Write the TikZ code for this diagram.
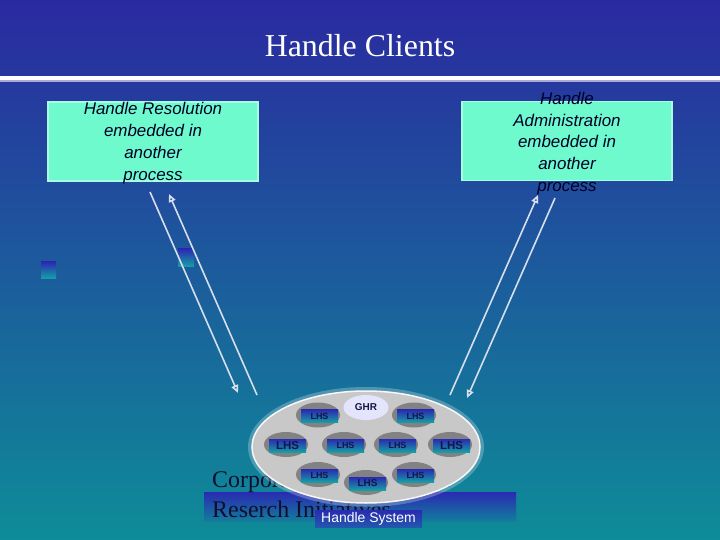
\documentclass[tikz,border=0pt]{standalone}
\usepackage{fontspec}
\setmainfont{Liberation Serif}
\setsansfont{Liberation Sans}
\usetikzlibrary{arrows.meta,shapes.geometric}
\definecolor{bgtop}{RGB}{42,42,160}
\definecolor{bgmid}{RGB}{28,92,166}
\definecolor{bgbot}{RGB}{14,140,152}
\definecolor{aqua}{RGB}{110,250,205}
\definecolor{gradtop}{RGB}{42,42,178}
\definecolor{gradbot}{RGB}{22,158,165}
\definecolor{arrowc}{RGB}{215,222,236}
\definecolor{ovalgray}{RGB}{200,200,200}
\definecolor{unitgray}{RGB}{130,130,130}
\definecolor{ghrc}{RGB}{228,228,252}
\definecolor{navy}{RGB}{20,20,70}
\definecolor{darktext}{RGB}{15,15,45}
\tikzset{
  clientbox/.style={draw=aqua!60!white, line width=1.2bp, fill=aqua, minimum width=210bp, minimum height=79bp, inner sep=0pt},
  clienttext/.style={align=center, inner sep=0pt, text=black!85!blue, font=\sffamily\itshape\fontsize{17}{22}\selectfont},
  flow/.style={draw=arrowc, line width=1.6bp, -{Triangle[open, length=8bp, width=7bp]}},
  gradsq/.style={top color=gradtop, bottom color=gradbot, draw=none},
  unit/.style={ellipse, fill=unitgray, minimum width=44bp, minimum height=25bp, inner sep=0pt},
  unitrect/.style={top color=gradtop, bottom color=gradbot, draw=none, inner sep=0pt, text=navy},
}
\newcommand\lhsunit[4]{%
  \node[unit] (#1) at (#2,#3) {};
  \node[unitrect, minimum width=37bp, minimum height=13bp, font=\sffamily\bfseries\fontsize{#4}{#4}\selectfont] (#1r) at ([xshift=1.5bp,yshift=-1bp]#1.center) {LHS};
}
\begin{document}
\begin{tikzpicture}[x=1bp, y=-1bp]
\useasboundingbox (0,0) rectangle (720,540);
% background
\shade[top color=bgtop, middle color=bgmid, bottom color=bgbot] (0,0) rectangle (720,540);
% title
\node[text=white, font=\fontsize{32}{32}\selectfont, anchor=base] (title) at (360,57) {Handle Clients};
\draw[white, line width=4bp] (0,78) -- (720,78);
\draw[white!60!bgtop, line width=1.5bp] (0,81) -- (720,81);
% client boxes
\node[clientbox] (res) at (153,141.5) {};
\node[clienttext] (restext) at (153,143) {Handle Resolution\\embedded in\\another\\process};
\node[clientbox] (adm) at (567,141) {};
\node[clienttext] (admtext) at (567,143.6) {Handle\\Administration\\embedded in\\another\\process};
% small gradient squares
\node[gradsq, minimum width=15bp, minimum height=16bp, inner sep=0pt] (sq1) at (48.5,270) {};
\node[gradsq, minimum width=16bp, minimum height=17bp, inner sep=0pt] (sq2) at (186,257.5) {};
% arrow end points
\coordinate (r1s) at (150,192);
\coordinate (r1e) at (238,393);
\coordinate (r2s) at (257,395);
\coordinate (r2e) at (169,194);
\coordinate (a1s) at (450,395);
\coordinate (a1e) at (538,195);
\coordinate (a2s) at (555,198);
\coordinate (a2e) at (467,398);
\draw[flow] (r1s) -- (r1e);
\draw[flow] (r2s) -- (r2e);
\draw[flow] (a1s) -- (a1e);
\draw[flow] (a2s) -- (a2e);
% bottom bar and organisation text
\shade[top color=gradtop, bottom color=bgbot!85!gradtop] (204,492) rectangle (516,521);
\node[anchor=base west, inner sep=0pt, text=darktext, font=\fontsize{24}{24}\selectfont] (org1) at (212,487) {Corporation for National};
\node[anchor=base west, inner sep=0pt, text=darktext, font=\fontsize{24}{24}\selectfont] (org2) at (212,517) {Reserch Initiatives};
% handle system oval
\fill[white, opacity=0.25] (366,447) ellipse [x radius=118, y radius=60];
\node[ellipse, fill=ovalgray, draw=white!85!ovalgray, line width=1.5bp, minimum width=228bp, minimum height=112bp, inner sep=0pt] (hs) at (366,447) {};
\node[ellipse, fill=ghrc, minimum width=45bp, minimum height=25bp, inner sep=0pt, text=navy, font=\sffamily\bfseries\fontsize{10}{10}\selectfont] (ghr) at (366,407.5) {GHR};
\lhsunit{u1}{318}{415}{9}
\lhsunit{u2}{414}{415}{9}
\lhsunit{u3}{286}{444.5}{11.5}
\lhsunit{u4}{344}{444.5}{9}
\lhsunit{u5}{396}{444.5}{9}
\lhsunit{u6}{450}{444.5}{11.5}
\lhsunit{u7}{318}{474.5}{9}
\lhsunit{u8}{366}{482.5}{10}
\lhsunit{u9}{414}{474.5}{9}
% label
\node[top color=gradtop, bottom color=gradtop!60!gradbot, minimum width=107bp, minimum height=17bp, inner sep=0pt, text=white, font=\sffamily\fontsize{14}{14}\selectfont] (hslabel) at (368.5,518.5) {Handle System};
\end{tikzpicture}
\end{document}
